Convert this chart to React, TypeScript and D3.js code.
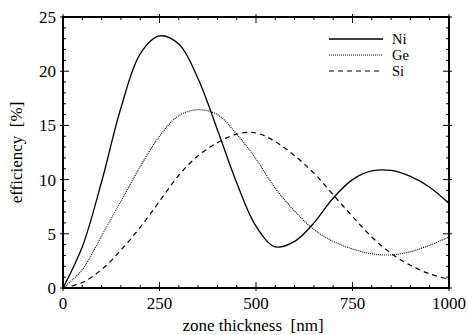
import React, { useRef, useEffect } from "react";
import * as d3 from "d3";

// thickness in nm, sampled every 50 nm
const thickness = [0, 50, 100, 150, 200, 250, 300, 350, 400, 450, 500, 550, 600, 650, 700, 750, 800, 850, 900, 950, 1000];
// efficiency in %
const ni = [0, 3.8, 9.8, 16.6, 21.6, 23.25, 22.5, 19.3, 14.6, 9.7, 5.7, 3.8, 4.3, 6.0, 8.3, 10.0, 10.8, 10.85, 10.3, 9.3, 7.8];
const ge = [0, 1.7, 4.8, 8.0, 11.2, 14.0, 15.9, 16.45, 16.0, 14.2, 11.9, 9.2, 7.1, 5.4, 4.3, 3.6, 3.15, 3.05, 3.35, 3.95, 4.7];
const si = [0, 0.5, 1.7, 3.5, 5.6, 8.0, 10.4, 12.2, 13.4, 14.2, 14.3, 13.5, 12.2, 10.6, 8.6, 6.6, 4.7, 3.2, 2.1, 1.3, 0.8];

const seriesNames = ["Ni", "Ge", "Si"];
const xTicks = [0, 250, 500, 750, 1000];
const yTicks = [0, 5, 10, 15, 20, 25];

const W = 468;
const H = 335;
const margin = { left: 63, right: 19, top: 17, bottom: 47 };

function Chart() {
  const svgRef = useRef(null);

  useEffect(() => {
    const svg = d3.select(svgRef.current);
    svg.selectAll("*").remove();

    const x = d3.scaleLinear().domain([0, 1000]).range([margin.left, W - margin.right]);
    const y = d3.scaleLinear().domain([0, 25]).range([H - margin.bottom, margin.top]);
    const font = "'Times New Roman', 'Liberation Serif', serif";

    // dashes per series
    const styles = [
      { dash: null, width: 1.3 },
      { dash: "1,1", width: 1.1 },
      { dash: "5,4", width: 1.2 },
    ];
    const values = [ni, ge, si];

    const line = d3
      .line()
      .x((d) => x(d[0]))
      .y((d) => y(d[1]))
      .curve(d3.curveCatmullRom.alpha(0.5));

    const plot = svg.append("g");
    values.forEach((vals, i) => {
      plot
        .append("path")
        .attr("d", line(thickness.map((t, j) => [t, vals[j]])))
        .attr("fill", "none")
        .attr("stroke", "#000")
        .attr("stroke-width", styles[i].width)
        .attr("stroke-dasharray", styles[i].dash);
    });

    // ticks on all four sides, pointing in
    const [x0, x1] = x.range();
    const [y0, y1] = y.range();
    const ticks = svg.append("g").attr("stroke", "#000").attr("stroke-width", 1);
    x.ticks(20).forEach((t) => {
      const major = xTicks.includes(t);
      const len = major ? 6 : 3;
      ticks.append("line").attr("x1", x(t)).attr("x2", x(t)).attr("y1", y0 + (major ? 3 : 0)).attr("y2", y0 - len);
      ticks.append("line").attr("x1", x(t)).attr("x2", x(t)).attr("y1", y1 - (major ? 3 : 0)).attr("y2", y1 + len);
    });
    y.ticks(25).forEach((t) => {
      const major = yTicks.includes(t);
      const len = major ? 6 : 3;
      ticks.append("line").attr("y1", y(t)).attr("y2", y(t)).attr("x1", x0 - (major ? 3 : 0)).attr("x2", x0 + len);
      ticks.append("line").attr("y1", y(t)).attr("y2", y(t)).attr("x1", x1 + (major ? 3 : 0)).attr("x2", x1 - len);
    });

    // frame
    svg
      .append("rect")
      .attr("x", x0)
      .attr("y", y1)
      .attr("width", x1 - x0)
      .attr("height", y0 - y1)
      .attr("fill", "none")
      .attr("stroke", "#000")
      .attr("stroke-width", 2);

    const txt = (sel, size = 17) => sel.style("font-family", font).style("font-size", size + "px").attr("fill", "#000");

    // tick labels
    svg
      .selectAll(".xl")
      .data(xTicks)
      .join("text")
      .attr("x", (d) => x(d))
      .attr("y", y0 + 21)
      .attr("text-anchor", "middle")
      .call(txt)
      .text((d) => d);
    svg
      .selectAll(".yl")
      .data(yTicks)
      .join("text")
      .attr("x", x0 - 7)
      .attr("y", (d) => y(d) + 6)
      .attr("text-anchor", "end")
      .call(txt)
      .text((d) => d);

    // axis titles
    svg
      .append("text")
      .attr("x", (x0 + x1) / 2 - 3)
      .attr("y", H - 4)
      .attr("text-anchor", "middle")
      .call(txt)
      .style("white-space", "pre")
      .text("zone thickness  [nm]");
    svg
      .append("text")
      .attr("transform", `translate(22, ${(y0 + y1) / 2}) rotate(-90)`)
      .attr("text-anchor", "middle")
      .call(txt)
      .style("white-space", "pre")
      .text("efficiency  [%]");

    // legend
    const legend = svg.append("g").attr("transform", "translate(329, 39)");
    seriesNames.forEach((name, i) => {
      legend
        .append("line")
        .attr("x1", 0)
        .attr("x2", 54)
        .attr("y1", i * 16)
        .attr("y2", i * 16)
        .attr("stroke", "#000")
        .attr("stroke-width", styles[i].width)
        .attr("stroke-dasharray", styles[i].dash);
      legend
        .append("text")
        .attr("x", 63)
        .attr("y", i * 16 + 5)
        .call(txt, 14.5)
        .text(name);
    });
  }, []);

  return <svg ref={svgRef} width={W} height={H} style={{ display: "block" }}></svg>;
}

export default function App() {
  return (
    <div style={{ position: "absolute", left: 0, top: 0, background: "#fff" }}>
      <Chart />
    </div>
  );
}
